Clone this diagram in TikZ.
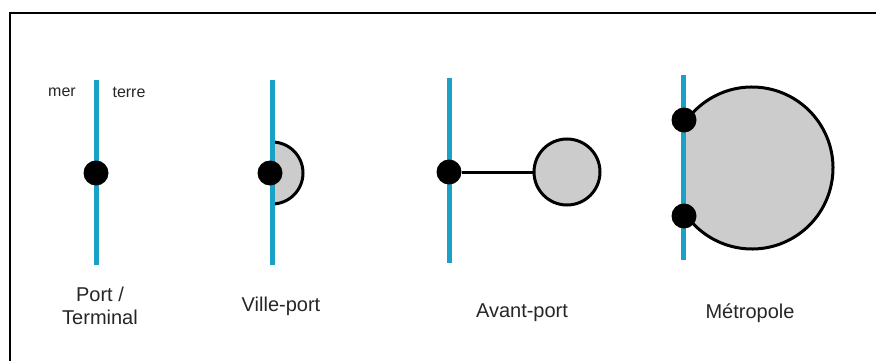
\documentclass[tikz,border=0pt]{standalone}
\usepackage{fontspec}
\setmainfont{Liberation Sans}
\definecolor{sea}{RGB}{27,160,200}
\definecolor{town}{RGB}{204,204,204}
\tikzset{
  coast/.style={draw=sea, line width=5pt},
  outline/.style={draw=black, line width=3pt},
  portdot/.style={circle, fill=black, inner sep=0pt, minimum size=25pt},
  lbl/.style={font=\fontsize{20}{23}\selectfont, align=center, text=black!85},
  side/.style={font=\fontsize{16}{18}\selectfont, text=black!85},
}
\begin{document}
\begin{tikzpicture}[x=1pt,y=-1pt]
\useasboundingbox (0,0) rectangle (876,361);
% frame
\coordinate (fTL) at (10,13);
\coordinate (fTR) at (876,13);
\coordinate (fBL) at (10,361);
\draw[line width=1.5pt] (fTR) -- (fTL) -- (fBL);

% 1: Port / Terminal
\coordinate (c1t) at (96,80);
\coordinate (c1b) at (96,265);
\draw[coast] (c1t) -- (c1b);
\node[portdot] (d1) at (96,173) {};
\node[side] (mer) at (62,92) {mer};
\node[side] (terre) at (129,92) {terre};
\node[lbl] (l1) at (100,306) {Port /\\Terminal};

% 2: Ville-port
\coordinate (c2t) at (272,80);
\coordinate (c2b) at (272,265);
\fill[town] (272,204) arc[start angle=90, end angle=-90, radius=31] -- cycle;
\draw[outline] (272,204) arc[start angle=90, end angle=-90, radius=31];
\draw[coast] (c2t) -- (c2b);
\node[portdot] (d2) at (270,173) {};
\node[lbl] (l2) at (281,306) {Ville-port};

% 3: Avant-port
\coordinate (c3t) at (449,78);
\coordinate (c3b) at (449,263);
\draw[coast] (c3t) -- (c3b);
\node[circle, fill=town, outline, minimum size=66pt, inner sep=0pt] (town3) at (567,172) {};
\node[portdot] (d3) at (449,172) {};
\draw[outline] (d3) -- (town3);
\node[lbl] (l3) at (522,313) {Avant-port};

% 4: Metropole
\coordinate (c4t) at (683,75);
\coordinate (c4b) at (683,260);
\fill[town] (752,168) ++(148.4:81) arc[start angle=148.4, end angle=-148.4, radius=81] -- cycle;
\draw[outline] (752,168) ++(148.4:81) arc[start angle=148.4, end angle=-148.4, radius=81];
\draw[coast] (c4t) -- (c4b);
\node[portdot] (d4a) at (684,120) {};
\node[portdot] (d4b) at (684,216) {};
\node[lbl] (l4) at (750,313) {Métropole};
\end{tikzpicture}
\end{document}
